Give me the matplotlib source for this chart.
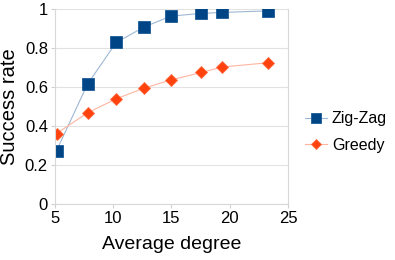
import matplotlib
matplotlib.use('Agg')
import matplotlib.pyplot as plt

plt.rcParams['font.family'] = ['Liberation Sans', 'DejaVu Sans']

# data
degree = [5.14, 7.8, 10.26, 12.66, 14.94, 17.57, 19.37, 23.31]
zigzag = [0.274, 0.615, 0.829, 0.908, 0.964, 0.978, 0.983, 0.991]
greedy = [0.362, 0.468, 0.540, 0.595, 0.636, 0.675, 0.703, 0.725]

x_ticks = [5, 10, 15, 20, 25]
y_ticks = [0, 0.2, 0.4, 0.6, 0.8, 1]
y_labels = ['0', '0.2', '0.4', '0.6', '0.8', '1']

fig = plt.figure(figsize=(3.95, 2.6), dpi=100)
ax = fig.add_axes([0.139, 0.215, 0.59, 0.75])

ax.plot(degree, zigzag, color='#9db7d3', marker='s', markersize=8,
        linewidth=0.8, label='Zig-Zag', markerfacecolor='#004586',
        markeredgecolor='#1a5a96', markeredgewidth=0.6)
ax.plot(degree, greedy, color='#ffb4a0', marker='D', markersize=6.5,
        linewidth=0.8, label='Greedy', markerfacecolor='#ff420e',
        markeredgecolor='#ff6a3e', markeredgewidth=0.6)

ax.set_xlim(5, 25)
ax.set_ylim(0, 1)
ax.set_xticks(x_ticks)
ax.set_yticks(y_ticks)
ax.set_yticklabels(y_labels)
ax.tick_params(labelsize=12, length=3, color='#d0d0d0', pad=2)
ax.yaxis.grid(True, color='#e2e2e2', linewidth=0.8)
ax.set_axisbelow(True)
for s in ['left', 'bottom', 'right']:
    ax.spines[s].set_color('#d8d8d8')
    ax.spines[s].set_linewidth(0.8)
ax.spines['top'].set_visible(False)

ax.set_xlabel('Average degree', fontsize=14)
ax.set_ylabel('Success rate', fontsize=14.5)
ax.xaxis.set_label_coords(0.5, -0.205, transform=ax.transAxes)
ax.yaxis.set_label_coords(-0.195, 0.5, transform=ax.transAxes)
ax.xaxis.label.set_va('center')
ax.yaxis.label.set_va('center')

ax.legend(loc='center left', bbox_to_anchor=(1.045, 0.37), frameon=False,
          fontsize=11.5, handlelength=1.4, handletextpad=0.3, labelspacing=0.7,
          borderaxespad=0, markerscale=0.85)

fig.savefig('out.png', dpi=100)
